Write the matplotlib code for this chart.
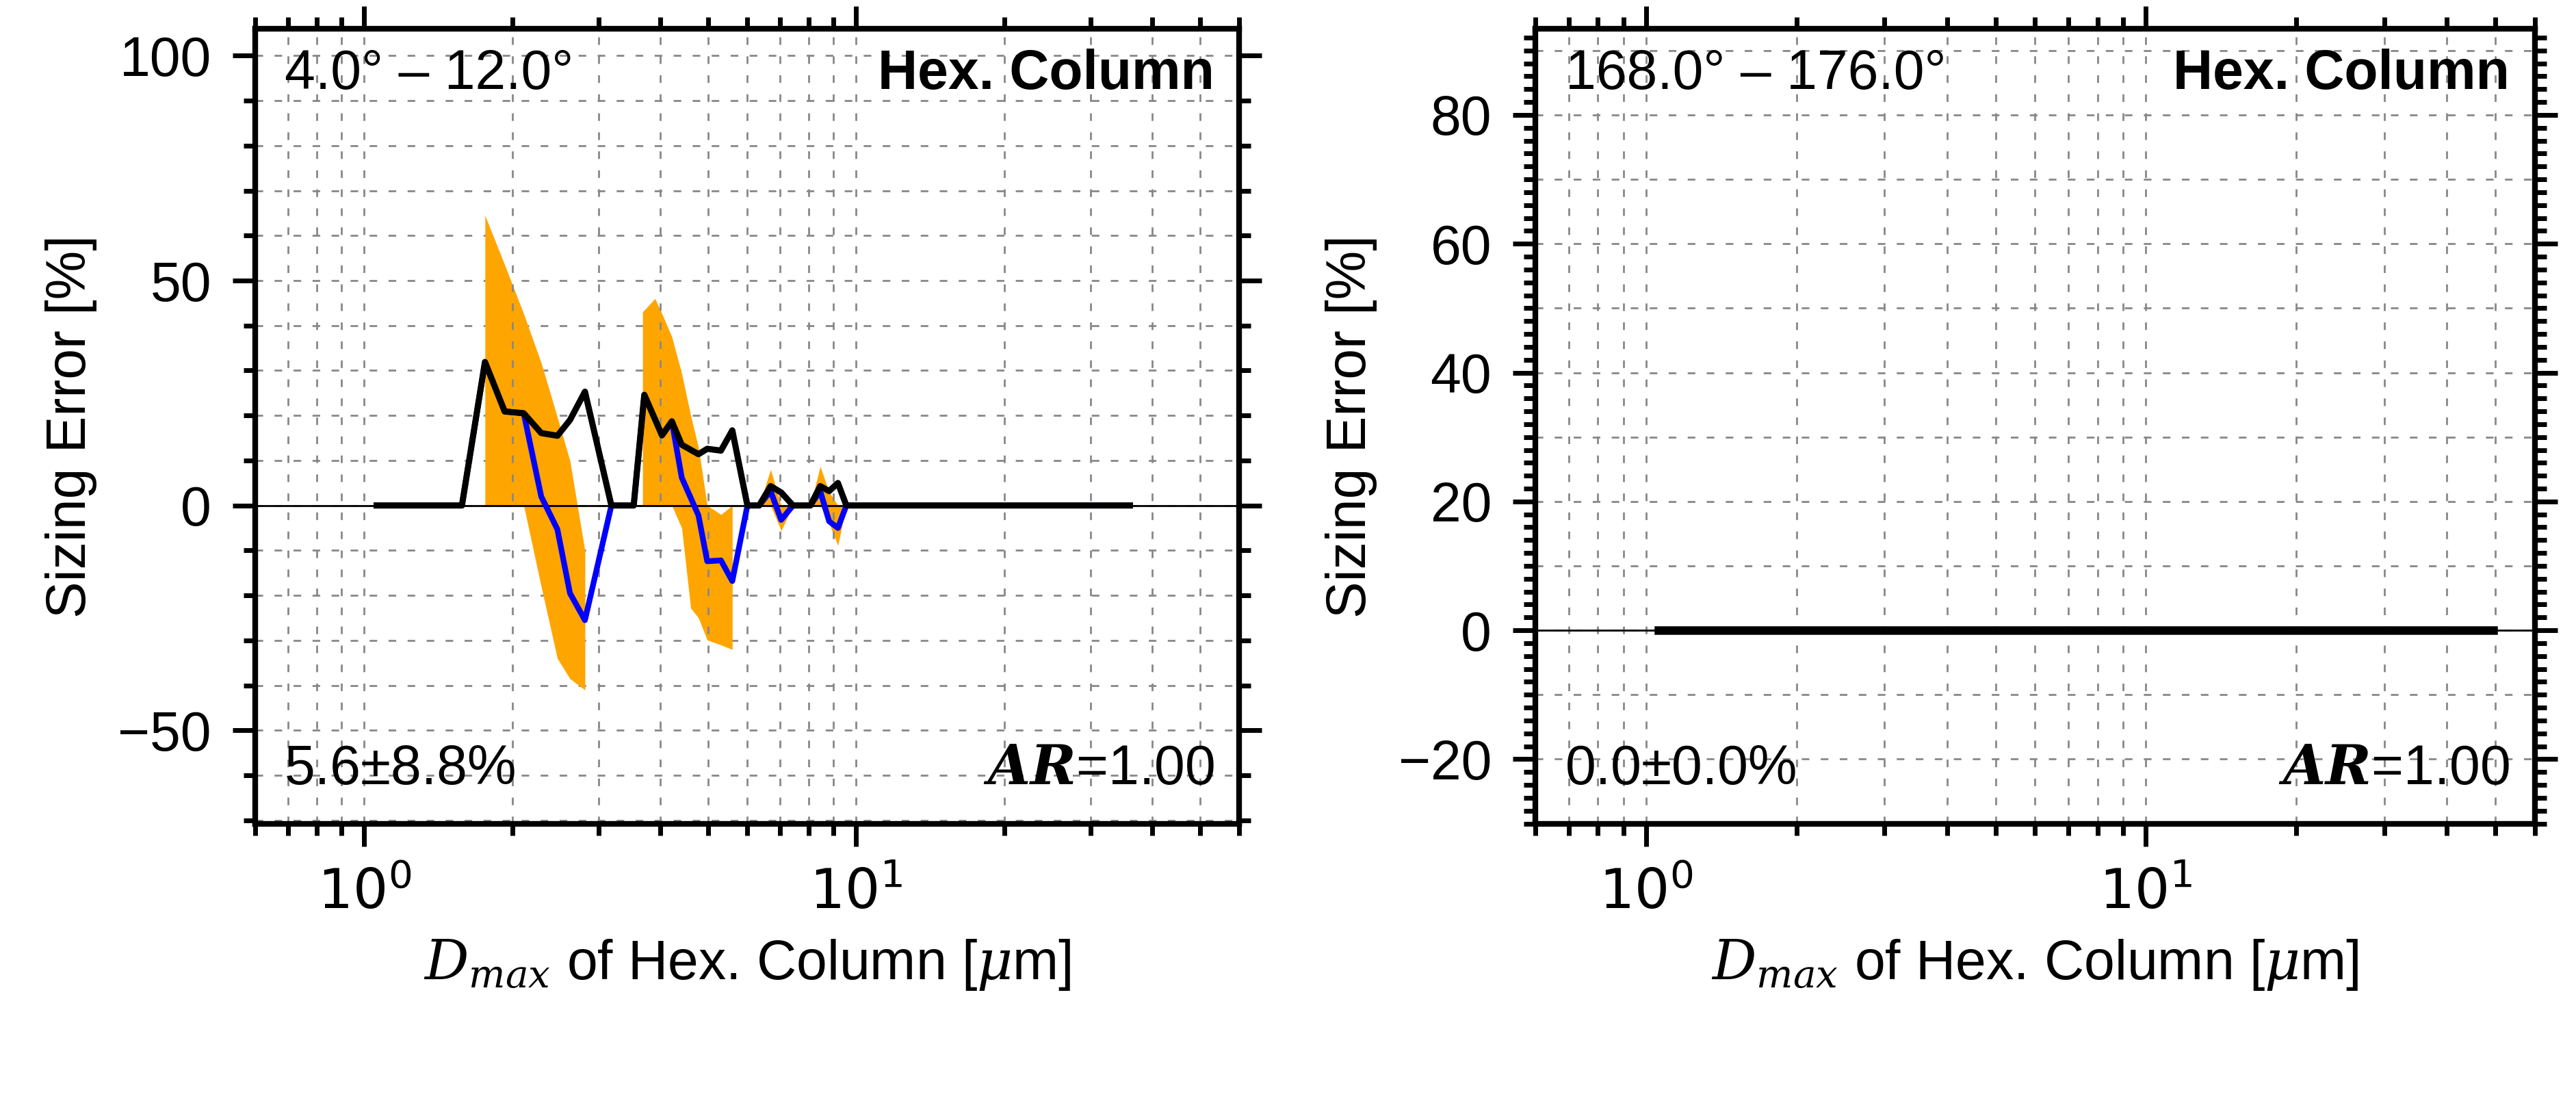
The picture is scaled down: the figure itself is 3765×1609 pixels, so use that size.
import matplotlib
matplotlib.use("Agg")
import matplotlib.pyplot as plt
import numpy as np
from matplotlib.ticker import MultipleLocator, LogLocator, FuncFormatter, NullFormatter

plt.rcParams['font.family'] = ['Liberation Sans', 'DejaVu Sans']
plt.rcParams['mathtext.fontset'] = 'dejavuserif'

# ---- data (left panel) ----
x_pts = [1.06, 1.58, 1.76, 1.93, 2.11, 2.29, 2.47, 2.62, 2.81, 3.18, 3.53, 3.71, 4.03, 4.22,
         4.42, 4.78, 4.98, 5.31, 5.60, 6.01, 6.35, 6.70, 7.04, 7.44, 8.07, 8.45, 8.81, 9.18,
         9.55, 36.0]
black_vals = [0, 0, 31.9, 20.9, 20.5, 16.1, 15.5, 19.0, 25.3, 0, 0, 24.6, 15.6, 18.7,
              13.5, 11.4, 12.6, 12.2, 16.7, 0, 0, 4.3, 2.9, 0, 0, 4.3, 3.2, 5.0, 0, 0]
blue_vals = [0, 0, 31.9, 20.9, 20.5, 2.0, -5.3, -19.5, -25.5, 0, 0, 24.6, 15.6, 18.7,
             6.2, -2.2, -12.4, -12.2, -16.8, 0, 0, 3.2, -3.2, 0, 0, 3.2, -3.5, -5.0, 0, 0]

band1_x = [1.76, 1.76, 1.93, 2.11, 2.29, 2.47, 2.62, 2.81, 2.81]
band1_hi = [0, 64.5, 53.5, 42.6, 31.7, 19.6, 9.9, -10.1, -41]
band1_lo = [0, 0, 0, 0, -18, -34, -38.5, -41, -41]
band2_x = [3.68, 3.68, 3.90, 4.03, 4.22, 4.42, 4.61, 4.78, 4.98, 5.31, 5.60, 5.60]
band2_hi = [0, 43, 46, 42.6, 37.5, 29.3, 20.0, 12.9, 0, -2, 0, -32]
band2_lo = [0, 0, 0, 0, 0, -5, -22.8, -25, -29.9, -31, -32, -32]
band3_x = [6.35, 6.70, 7.04, 7.44]
band3_hi = [0, 8, 0, 0]
band3_lo = [0, 0, -5.6, 0]
band4_x = [8.07, 8.45, 8.81, 9.18, 9.55]
band4_hi = [0, 8.7, 3, 0, 0]
band4_lo = [0, 0, -4, -8.9, 0]

# ---- data (right panel) ----
x_right = [1.06, 49.5]
vals_right = [0, 0]

fig = plt.figure(figsize=(37.65, 16.09), dpi=100)
axL = fig.add_axes([0.099, 0.252, 0.382, 0.722])
axR = fig.add_axes([0.596, 0.252, 0.388, 0.722])

FS = 58

def logfmt(v, pos):
    e = int(round(np.log10(v)))
    return r'$\mathsf{10^{%d}}$' % e

def style(ax, ylim, major, minor, gridstep):
    ax.set_xscale('log')
    ax.set_xlim(0.6, 60)
    ax.set_ylim(*ylim)
    ax.xaxis.set_major_locator(LogLocator(base=10, numticks=10))
    ax.xaxis.set_minor_locator(LogLocator(base=10, subs=np.arange(2, 10), numticks=10))
    ax.xaxis.set_major_formatter(FuncFormatter(logfmt))
    ax.xaxis.set_minor_formatter(NullFormatter())
    ax.yaxis.set_major_locator(MultipleLocator(major))
    ax.yaxis.set_minor_locator(MultipleLocator(minor))
    ax.grid(True, which='both', axis='x', ls=(0, (4, 6)), color='#888888', lw=2)
    for g in np.arange(np.ceil(ylim[0] / gridstep) * gridstep, ylim[1], gridstep):
        ax.axhline(g, ls=(0, (4, 6)), color='#888888', lw=2, zorder=0)
    for s in ax.spines.values():
        s.set_linewidth(6)
    ax.tick_params(which='both', direction='out', top=True, right=True,
                   labelsize=FS, width=5, pad=22)
    ax.tick_params(which='major', length=24)
    ax.tick_params(which='minor', length=12)
    ax.set_ylabel('Sizing Error [%]', fontsize=FS, labelpad=22)
    ax.set_xlabel(r'$\boldsymbol{D_{max}}$ of Hex. Column [$\mu$m]', fontsize=FS, labelpad=18)
    ax.axhline(0, color='black', lw=2, zorder=2)

style(axL, (-70.7, 106), 50, 10, 10)
style(axR, (-30, 93.4), 20, 2, 10)

for bx, bh, bl in [(band1_x, band1_hi, band1_lo), (band2_x, band2_hi, band2_lo),
                   (band3_x, band3_hi, band3_lo), (band4_x, band4_hi, band4_lo)]:
    axL.fill_between(bx, bl, bh, color='orange', lw=0, zorder=1)
axL.plot(x_pts, blue_vals, color='blue', lw=6, zorder=3)
axL.plot(x_pts, black_vals, color='black', lw=6.5, zorder=4)

axR.plot(x_right, vals_right, color='black', lw=9, zorder=4)

def texts(ax, rng, stat):
    ax.text(0.03, 0.975, rng, transform=ax.transAxes, fontsize=FS, va='top', ha='left')
    ax.text(0.975, 0.975, 'Hex. Column', transform=ax.transAxes, fontsize=FS, va='top',
            ha='right', fontweight='bold')
    ax.text(0.03, 0.035, stat, transform=ax.transAxes, fontsize=FS, va='bottom', ha='left')
    ax.text(0.975, 0.035, r'$\boldsymbol{AR}$=1.00', transform=ax.transAxes, fontsize=FS,
            va='bottom', ha='right')

texts(axL, '4.0° – 12.0°', '5.6±8.8%')
texts(axR, '168.0° – 176.0°', '0.0±0.0%')

fig.savefig('out.png', dpi=100)
